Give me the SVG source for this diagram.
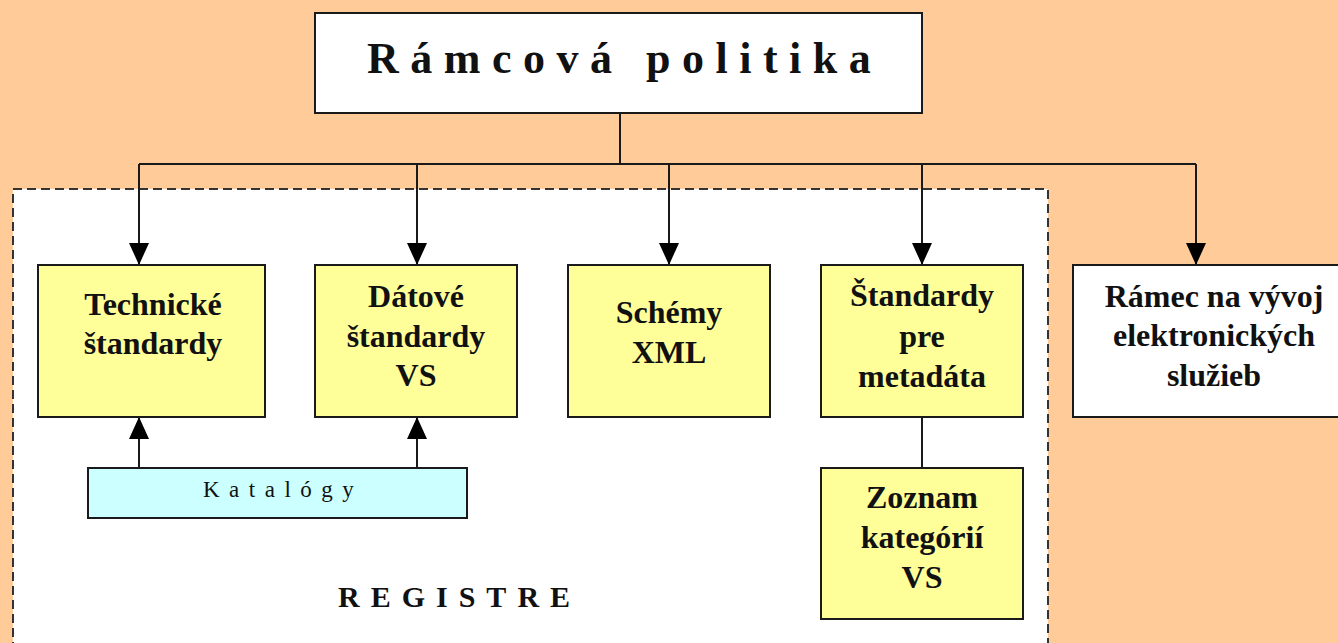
<svg xmlns="http://www.w3.org/2000/svg" width="1338" height="643" viewBox="0 0 1338 643">
<defs>
<style>
.bx{stroke:#1a1a1a;stroke-width:2}
.y{fill:#FFFF99}
.w{fill:#FFFFFF}
.c{fill:#CCFFFF}
.t{font-family:"Liberation Serif","Times New Roman",serif;font-weight:bold;font-size:32px;fill:#111;text-anchor:middle}
.ln{stroke:#1a1a1a;stroke-width:2;fill:none}
</style>
<marker id="ah" markerUnits="userSpaceOnUse" markerWidth="22" markerHeight="20" viewBox="0 0 22 20" refX="22" refY="10" orient="auto">
<path d="M0,0 L22,10 L0,20 z" fill="#000"/>
</marker>
</defs>
<rect x="0" y="0" width="1338" height="643" fill="#FFCC99"/>
<g id="registre">
<rect x="13" y="189" width="1035" height="470" fill="#FFFFFF" stroke="#333" stroke-width="2" stroke-dasharray="9,5"/>
<text x="338" y="607" style="font-family:'Liberation Serif','Times New Roman',serif;font-weight:bold;font-size:30px;letter-spacing:11px;fill:#111">REGISTRE</text>
</g>
<g id="connectors">
<path class="ln" d="M620,113 V164"/>
<path class="ln" d="M139,164 H1196"/>
<path class="ln" d="M139,164 V265" marker-end="url(#ah)"/>
<path class="ln" d="M417,164 V265" marker-end="url(#ah)"/>
<path class="ln" d="M669,164 V265" marker-end="url(#ah)"/>
<path class="ln" d="M922,164 V265" marker-end="url(#ah)"/>
<path class="ln" d="M1196,164 V265" marker-end="url(#ah)"/>
<path class="ln" d="M139,468 V417" marker-end="url(#ah)"/>
<path class="ln" d="M417,468 V417" marker-end="url(#ah)"/>
<path class="ln" d="M922,417 V468"/>
</g>
<g id="ramcova">
<rect class="bx w" x="315" y="13" width="607" height="100"/>
<text x="367" y="73" style="font-family:'Liberation Serif','Times New Roman',serif;font-weight:bold;font-size:44px;letter-spacing:11.5px;fill:#111">Rámcová politika</text>
</g>
<g id="technicke">
<rect class="bx y" x="38" y="265" width="227" height="152"/>
<text class="t" x="153" y="315">Technické</text>
<text class="t" x="153" y="354">štandardy</text>
</g>
<g id="datove">
<rect class="bx y" x="315" y="265" width="202" height="152"/>
<text class="t" x="416" y="307">Dátové</text>
<text class="t" x="416" y="347">štandardy</text>
<text class="t" x="416" y="386">VS</text>
</g>
<g id="schemy">
<rect class="bx y" x="568" y="265" width="202" height="152"/>
<text class="t" x="669" y="323">Schémy</text>
<text class="t" x="669" y="363">XML</text>
</g>
<g id="metadata">
<rect class="bx y" x="821" y="265" width="202" height="152"/>
<text class="t" x="922" y="306">Štandardy</text>
<text class="t" x="922" y="347">pre</text>
<text class="t" x="922" y="387">metadáta</text>
</g>
<g id="ramec">
<rect class="bx w" x="1073" y="265" width="285" height="152"/>
<text class="t" x="1214" y="307">Rámec na vývoj</text>
<text class="t" x="1214" y="346">elektronických</text>
<text class="t" x="1214" y="386">služieb</text>
</g>
<g id="katalogy">
<rect class="bx c" x="88" y="468" width="379" height="50"/>
<text x="203" y="497" style="font-family:'Liberation Serif','Times New Roman',serif;font-size:23px;letter-spacing:9.5px;fill:#111">Katalógy</text>
</g>
<g id="zoznam">
<rect class="bx y" x="821" y="468" width="202" height="151"/>
<text class="t" x="922" y="508">Zoznam</text>
<text class="t" x="922" y="548">kategórií</text>
<text class="t" x="922" y="588">VS</text>
</g>
</svg>
